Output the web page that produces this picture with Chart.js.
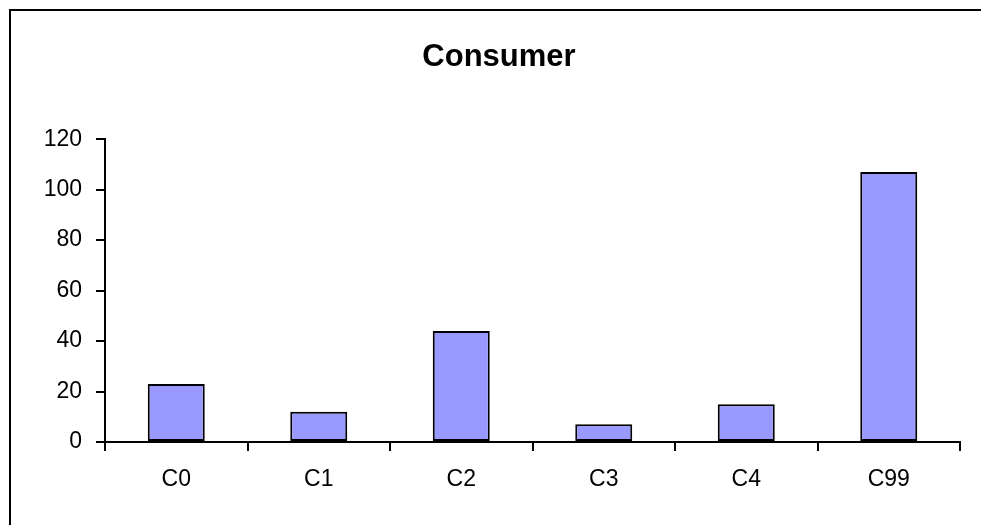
<!DOCTYPE html>
<html lang="en">
<head>
    <title>Consumer</title>
    <script src="https://cdn.jsdelivr.net/npm/chart.js"></script>
    <style>
        html, body { margin: 0; padding: 0; background: #ffffff; }
        #chart-container { position: relative; width: 981px; height: 525px; }
    </style>
</head>
<body>
    <div id="chart-container">
        <canvas id="chart"></canvas>
    </div>

    <script>
        // consumer groups and their counts
        var categories = ['C0', 'C1', 'C2', 'C3', 'C4', 'C99'];
        var counts = [23, 12, 44, 7, 15, 107];
        var yMin = 0;
        var yMax = 120;
        var yStep = 20;

        var fontFamily = "'Liberation Sans', Arial, sans-serif";

        // white background plus the frame line along the top and left edge
        var framePlugin = {
            id: 'frame',
            beforeDraw: function(chart) {
                var ctx = chart.ctx;
                ctx.save();
                ctx.fillStyle = '#ffffff';
                ctx.fillRect(0, 0, chart.width, chart.height);
                ctx.strokeStyle = '#000000';
                ctx.lineWidth = 2;
                ctx.strokeRect(10, 10, chart.width + 50, chart.height + 50);
                ctx.restore();
            }
        };

        var ctx = document.getElementById('chart').getContext('2d');
        var chart = new Chart(ctx, {
            type: 'bar',
            data: {
                labels: categories,
                datasets: [{
                    label: 'Consumer',
                    data: counts,
                    backgroundColor: '#9999ff',
                    borderColor: '#000000',
                    borderWidth: 2,
                    borderSkipped: false,
                    barPercentage: 0.4,
                    categoryPercentage: 1.0
                }]
            },
            options: {
                responsive: true,
                maintainAspectRatio: false,
                animation: false,
                // left padding keeps the title centred on the frame
                layout: { padding: { left: 38, right: 21, top: 0, bottom: 0 } },
                plugins: {
                    legend: { display: false },
                    tooltip: { enabled: false },
                    title: {
                        display: true,
                        text: 'Consumer',
                        color: '#000000',
                        font: { family: fontFamily, size: 31, weight: 'bold' },
                        padding: { top: 39, bottom: 63 }
                    }
                },
                scales: {
                    x: {
                        offset: true,
                        grid: {
                            offset: true,
                            drawOnChartArea: false,
                            drawTicks: true,
                            tickLength: 9,
                            color: '#000000',
                            lineWidth: 2
                        },
                        border: { display: true, color: '#000000', width: 2 },
                        ticks: {
                            color: '#000000',
                            font: { family: fontFamily, size: 23 },
                            padding: 15,
                            maxRotation: 0
                        },
                        afterFit: function(scale) { scale.height = 83; }
                    },
                    y: {
                        min: yMin,
                        max: yMax,
                        grid: {
                            drawOnChartArea: false,
                            drawTicks: true,
                            tickLength: 9,
                            color: '#000000',
                            lineWidth: 2
                        },
                        border: { display: true, color: '#000000', width: 2 },
                        ticks: {
                            stepSize: yStep,
                            color: '#000000',
                            font: { family: fontFamily, size: 23 },
                            padding: 14
                        },
                        afterFit: function(scale) { scale.width = 67; }
                    }
                }
            },
            plugins: [framePlugin]
        });
    </script>
</body>
</html>
